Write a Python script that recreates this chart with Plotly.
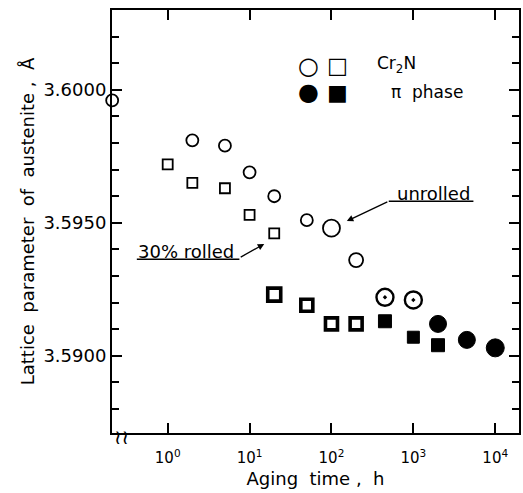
import numpy as np
import plotly.graph_objects as go

# ---------------- data ----------------
# unrolled specimens (circles); the first point is the 0 h (as treated) value, drawn on the axis
circle_time = [0.21, 2, 5, 10, 20, 50, 100, 200, 450, 1000, 2000, 4500, 10000]
circle_value = [3.5996, 3.5981, 3.5979, 3.5969, 3.5960, 3.5951, 3.5948, 3.5936,
                3.5922, 3.5921, 3.5912, 3.5906, 3.5903]
circle_state = ["open"] * 8 + ["part", "part", "filled", "filled", "filled"]
circle_size = [12, 12, 12, 12, 12, 12, 17, 14, 17, 17, 17, 17, 18]

# 30 % rolled specimens (squares)
square_time = [1, 2, 5, 10, 20, 20, 50, 100, 200, 450, 1000, 2000]
square_value = [3.5972, 3.5965, 3.5963, 3.5953, 3.5946, 3.5923, 3.5919, 3.5912,
                3.5912, 3.5913, 3.5907, 3.5904]
square_state = ["open"] * 5 + ["part", "part", "part", "part", "filled", "filled", "filled"]
square_size = [10, 10, 10, 10, 10, 13, 12, 12, 12, 13, 12, 13]

x_tickvals = [1, 10, 100, 1000, 10000]
x_ticktext = ["10<sup>0</sup>", "10<sup>1</sup>", "10<sup>2</sup>", "10<sup>3</sup>", "10<sup>4</sup>"]
y_tickvals = [3.5900, 3.5950, 3.6000]
y_ticktext = ["3.5900", "3.5950", "3.6000"]

FONT = "DejaVu Sans"

styles = {
    "circle": {"open": ("circle-open", 1.8), "part": ("circle-open-dot", 2.4), "filled": ("circle", 1)},
    "square": {"open": ("square-open", 1.8), "part": ("square-open", 3.6), "filled": ("square", 1)},
}

fig = go.Figure()


def add_group(kind, t, v, st, sz):
    t = np.array(t); v = np.array(v); st = np.array(st); sz = np.array(sz)
    for s in ["open", "part", "filled"]:
        m = st == s
        if not m.any():
            continue
        sym, lw = styles[kind][s]
        fig.add_trace(go.Scatter(
            x=t[m], y=v[m], mode="markers", showlegend=False, cliponaxis=False,
            marker=dict(symbol=sym, size=sz[m], color="black", opacity=1,
                        line=dict(color="black", width=lw)),
        ))


add_group("circle", circle_time, circle_value, circle_state, circle_size)
add_group("square", square_time, square_value, square_state, square_size)

axis_common = dict(showline=True, linewidth=2, linecolor="black", mirror="allticks",
                   ticks="inside", tickwidth=2, ticklen=10, tickcolor="black",
                   showgrid=False, zeroline=False)

fig.update_xaxes(type="log", range=[-0.68, 4.29], tickmode="array",
                 tickvals=x_tickvals, ticktext=x_ticktext, ticklabelstandoff=10,
                 tickfont=dict(family=FONT, size=15, color="black"),
                 title=dict(text="Aging  time ,  h", font=dict(family=FONT, size=18, color="black"),
                            standoff=6),
                 **axis_common)
fig.update_yaxes(range=[3.5871, 3.6030], tickmode="array",
                 tickvals=y_tickvals, ticktext=y_ticktext,
                 tickfont=dict(family=FONT, size=18, color="black"),
                 minor=dict(tickmode="linear", tick0=3.59, dtick=0.001, ticks="inside",
                            ticklen=7, tickwidth=1.5, tickcolor="black"),
                 title=dict(text="Lattice  parameter  of  austenite ,  Å",
                            font=dict(family=FONT, size=18, color="black"), standoff=4),
                 **axis_common)

ann_font = dict(family=FONT, size=18, color="black")
annotations = [
    dict(text="unrolled", x=0.790, y=0.566),
    dict(text="30% rolled", x=0.181, y=0.430),
    dict(text="Cr<sub>2</sub>N", x=0.699, y=0.872, size=17),
    dict(text="π  phase", x=0.773, y=0.806, size=17),
    dict(text="○", x=0.484, y=0.868, size=24),
    dict(text="□", x=0.555, y=0.868, size=22),
    dict(text="●", x=0.484, y=0.806, size=24),
    dict(text="■", x=0.555, y=0.806, size=22),
    dict(text="≀≀", x=0.024, y=-0.010, size=20),
]
for a in annotations:
    f = dict(ann_font)
    if "size" in a:
        f["size"] = a.pop("size")
    fig.add_annotation(xref="paper", yref="paper", showarrow=False, font=f,
                       xanchor="center", yanchor="middle", **a)

# leader arrows
fig.add_annotation(xref="paper", yref="paper", x=0.577, y=0.501, ax=42, ay=-20, text="",
                   showarrow=True, arrowhead=2, arrowsize=1, arrowwidth=1.3, arrowcolor="black")
fig.add_annotation(xref="paper", yref="paper", x=0.374, y=0.447, ax=-25, ay=14, text="",
                   showarrow=True, arrowhead=2, arrowsize=1, arrowwidth=1.3, arrowcolor="black")
# underlines
fig.add_shape(type="line", xref="paper", yref="paper", x0=0.680, x1=0.888, y0=0.548, y1=0.548,
              line=dict(color="black", width=1.5))
fig.add_shape(type="line", xref="paper", yref="paper", x0=0.061, x1=0.313, y0=0.411, y1=0.411,
              line=dict(color="black", width=1.5))

fig.update_layout(width=523, height=493, margin=dict(l=112, r=2, t=10, b=60),
                  plot_bgcolor="white", paper_bgcolor="white",
                  font=dict(family=FONT, color="black"))

fig.write_html("out.html", config={"displayModeBar": False},
               post_script="document.body.style.margin='0';document.body.style.overflow='hidden';")
